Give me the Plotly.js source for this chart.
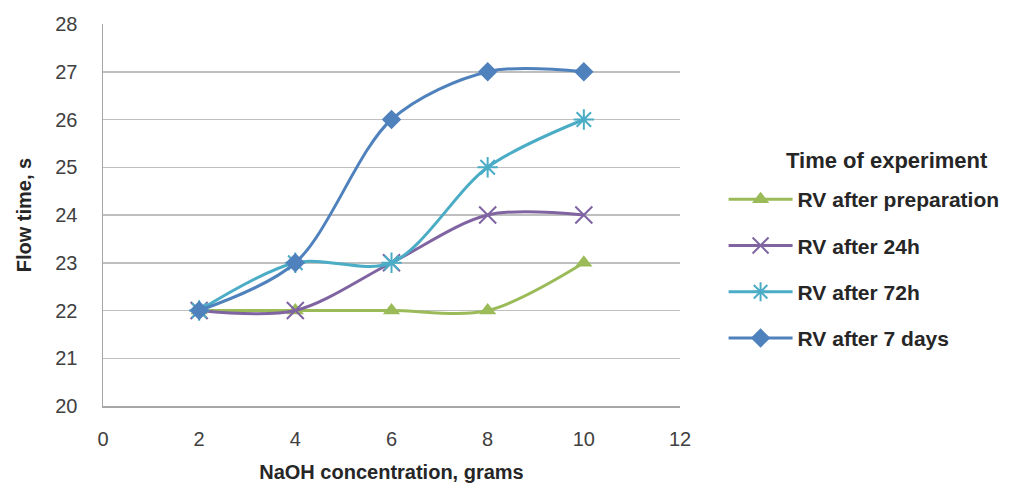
<!DOCTYPE html>
<html><head><meta charset="utf-8">
<script src="https://cdn.plot.ly/plotly-3.0.1.min.js"></script>
<style>html,body{margin:0;padding:0;background:#fff}#c{width:1022px;height:490px}</style>
</head><body><div id="c"></div>
<script>
const naoh = [2, 4, 6, 8, 10];
const seriesNames = ["RV after preparation", "RV after 24h", "RV after 72h", "RV after 7 days"];
const legendTitle = "Time of experiment";
const afterPreparation = [22, 22, 22, 22, 23];
const after24h = [22, 22, 23, 24, 24];
const after72h = [22, 23, 23, 25, 26];
const after7days = [22, 23, 26, 27, 27];
const colors = ["#9BBB59", "#8064A2", "#4BACC6", "#4F81BD"];
const symbols = ["triangle-up", "x-thin-open", "asterisk-open", "diamond"];
const sizes = [15, 17, 17, 15];
const values = [afterPreparation, after24h, after72h, after7days];

const traces = values.map((v, i) => ({
  x: naoh, y: v, name: "<b>" + seriesNames[i] + "</b>", type: "scatter", mode: "lines+markers",
  legendgroup: "g" + i,
  line: {color: colors[i], width: 3, shape: "spline", smoothing: 0.9},
  marker: {symbol: symbols[i], size: sizes[i], color: colors[i],
           line: {color: colors[i], width: (i === 1 || i === 2) ? 2 : 0}}
}));

const fam = "Liberation Sans, Arial, sans-serif";
const tickFont = {family: fam, size: 20, color: "#404040"};
const layout = {
  width: 1022, height: 490,
  margin: {l: 103, r: 342, t: 24, b: 84},
  paper_bgcolor: "#fff", plot_bgcolor: "#fff",
  font: {family: fam, color: "#262626"},
  xaxis: {
    range: [0, 12], tickvals: [0, 2, 4, 6, 8, 10, 12], showgrid: false,
    zeroline: false, showline: true, linecolor: "#a6a6a6", linewidth: 1.5,
    ticks: "", tickfont: tickFont, ticklabelstandoff: 14,
    title: {text: "<b>NaOH concentration, grams</b>", font: {size: 20, color: "#262626"}, standoff: 16}
  },
  yaxis: {
    range: [20, 28], dtick: 1, showgrid: true, gridcolor: "#bfbfbf", gridwidth: 1.5,
    zeroline: false, showline: true, linecolor: "#a6a6a6", linewidth: 1.5,
    ticks: "", tickfont: tickFont, ticklabelstandoff: 20,
    title: {text: "<b>Flow time, s</b>", font: {size: 20, color: "#262626"}, standoff: 18}
  },
  showlegend: true,
  legend: {
    xref: "container", yref: "container", x: 0.708, y: 0.6347, xanchor: "left", yanchor: "top",
    traceorder: "grouped", tracegroupgap: 16, itemwidth: 64,
    font: {family: fam, size: 21, color: "#262626"},
    bgcolor: "rgba(0,0,0,0)"
  },
  annotations: [{
    text: "<b>" + legendTitle + "</b>", xref: "paper", yref: "paper",
    x: (887 - 103) / 577, y: (406 - 160) / 382, xanchor: "center", yanchor: "middle",
    showarrow: false, font: {family: fam, size: 22, color: "#262626"}
  }]
};
Plotly.newPlot("c", traces, layout, {displayModeBar: false, staticPlot: true});
</script></body></html>
